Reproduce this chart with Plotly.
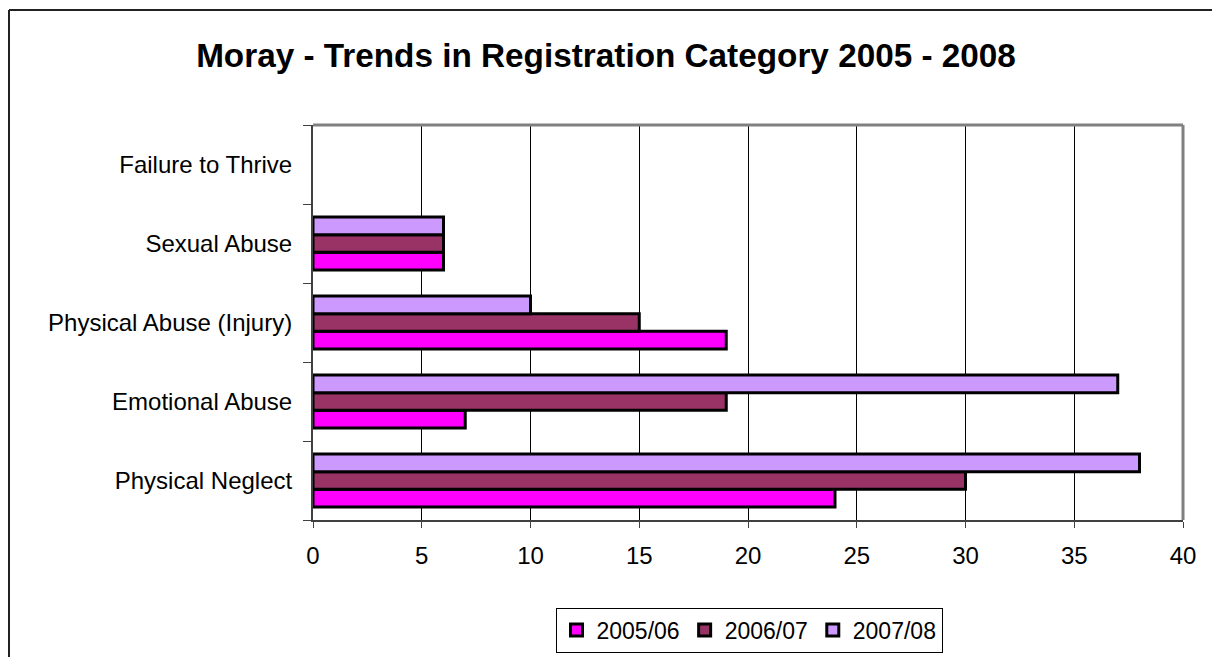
import plotly.graph_objects as go

categories = ["Physical Neglect", "Emotional Abuse", "Physical Abuse (Injury)", "Sexual Abuse", "Failure to Thrive"]
series_names = ["2005/06", "2006/07", "2007/08"]
values_0506 = [24, 7, 19, 6, 0]
values_0607 = [30, 19, 15, 6, 0]
values_0708 = [38, 37, 10, 6, 0]
colors = ["#FF00FF", "#993366", "#CC99FF"]
x_ticks = [0, 5, 10, 15, 20, 25, 30, 35, 40]

OFF = 8  # page body margin
W, H = 1220 - OFF, 657 - OFF
L, R, T, B = 313 - OFF, 1183 - OFF, 125 - OFF, 520 - OFF

fig = go.Figure()
for name, vals, col in zip(series_names, [values_0506, values_0607, values_0708], colors):
    fig.add_trace(go.Bar(
        y=categories, x=[v if v else None for v in vals], name=name, orientation="h",
        marker=dict(color=col, line=dict(color="black", width=3)),
    ))

pw = R - L
ph = B - T
def px2x(p):
    return (p - OFF - L) / pw
def py2y(p):
    return (B - (p - OFF)) / ph
def cx(p):
    return (p - OFF) / W
def cy(p):
    return 1 - (p - OFF) / H

shapes = [
    dict(type="line", xref="paper", yref="paper", x0=px2x(9), x1=px2x(9), y0=py2y(10), y1=py2y(700),
         line=dict(color="#222222", width=2)),
    dict(type="line", xref="paper", yref="paper", x0=px2x(9), x1=px2x(1300), y0=py2y(10), y1=py2y(10),
         line=dict(color="#222222", width=2)),
    dict(type="line", xref="paper", yref="paper", x0=0, x1=1, y0=1, y1=1,
         line=dict(color="#808080", width=3)),
    dict(type="line", xref="paper", yref="paper", x0=1, x1=1, y0=0, y1=1,
         line=dict(color="#808080", width=3)),
]

fig.update_layout(
    width=W, height=H,
    margin=dict(l=L, r=W - R, t=T, b=H - B, autoexpand=False),
    paper_bgcolor="white", plot_bgcolor="white",
    barmode="group", bargap=0.33, bargroupgap=0,
    font=dict(family="Liberation Sans, Arial", size=24, color="black"),
    title=dict(text="<b>Moray - Trends in Registration Category 2005 - 2008</b>",
               x=cx(606), xanchor="center", y=cy(55), yanchor="middle",
               font=dict(size=33.3, color="black")),
    xaxis=dict(range=[0, 40], tickvals=x_ticks, showgrid=True, gridcolor="#000000", gridwidth=1,
               showline=True, linecolor="#404040", linewidth=2, ticks="outside", ticklen=6,
               tickcolor="#404040", zeroline=False, ticklabelstandoff=7),
    yaxis=dict(categoryorder="array", categoryarray=categories, showline=True, linecolor="#404040",
               linewidth=2, ticks="outside", ticklen=8, tickcolor="#404040", tickson="boundaries",
               showgrid=False, ticklabelstandoff=14),
    legend=dict(orientation="h", xref="container", yref="container", x=cx(749), xanchor="center",
                y=cy(630), yanchor="middle", bordercolor="black", borderwidth=1,
                bgcolor="white", font=dict(size=23), traceorder="normal",
                itemwidth=30),
    shapes=shapes,
    showlegend=True,
)

fig.write_html("out.html")
